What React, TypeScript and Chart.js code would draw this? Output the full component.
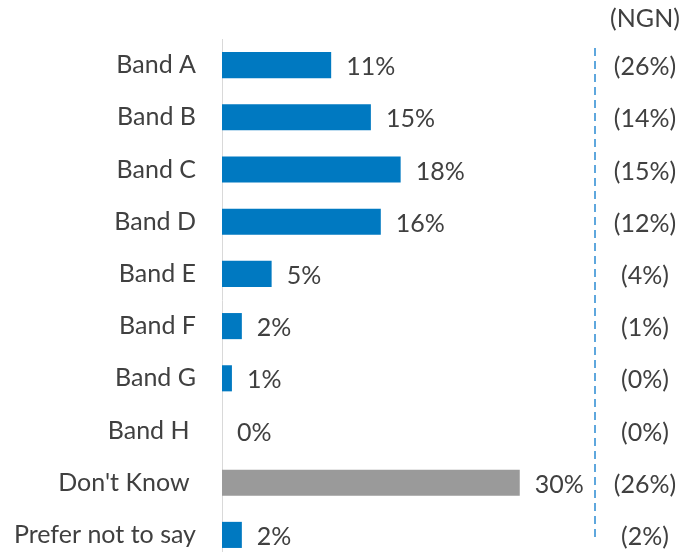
import React, { useEffect, useRef } from "react";
import { Chart, registerables } from "chart.js";

Chart.register(...registerables);

// some source labels carry a trailing space, which shifts them left a little
const categories = [
  "Band A",
  "Band B",
  "Band C",
  "Band D",
  "Band E",
  "Band F",
  "Band G",
  "Band H ",
  "Don't Know ",
  "Prefer not to say",
];
const shares = [11, 15, 18, 16, 5, 2, 1, 0, 30, 2];
const ngnShares = ["(26%)", "(14%)", "(15%)", "(12%)", "(4%)", "(1%)", "(0%)", "(0%)", "(26%)", "(2%)"];
const ngnTitle = "(NGN)";

const BLUE = "#0079C1";
const GREY = "#9A9A9A";
const TEXT = "#404040";
const FONT = "Lato, 'Noto Sans', sans-serif";

const labelsPlugin = {
  id: "sideLabels",
  afterDatasetsDraw(chart) {
    const ctx = chart.ctx;
    const meta = chart.getDatasetMeta(0);
    const area = chart.chartArea;
    const colX = chart.width - 36;
    const lineX = chart.width - 86;

    ctx.save();
    ctx.fillStyle = TEXT;
    ctx.font = `25px ${FONT}`;
    ctx.textBaseline = "middle";

    // value labels next to the bars
    ctx.textAlign = "left";
    meta.data.forEach((bar, i) => {
      ctx.fillText(shares[i] + "%", bar.x + 15, bar.y + 2);
    });

    // NGN comparison column
    ctx.textAlign = "center";
    meta.data.forEach((bar, i) => {
      ctx.fillText(ngnShares[i], colX, bar.y + 2);
    });
    ctx.fillText(ngnTitle, colX, 19);

    // dashed separator
    ctx.strokeStyle = "#2A8AD2";
    ctx.lineWidth = 1.5;
    ctx.setLineDash([8, 5]);
    ctx.beginPath();
    ctx.moveTo(lineX, area.top + 9);
    ctx.lineTo(lineX, area.bottom - 21);
    ctx.stroke();
    ctx.restore();
  },
};

const BandChart = () => {
  const chartRef = useRef(null);

  useEffect(() => {
    document.body.style.margin = "0";
    const ctx = chartRef.current.getContext("2d");
    const chart = new Chart(ctx, {
      type: "bar",
      data: {
        labels: categories,
        datasets: [
          {
            data: shares,
            backgroundColor: categories.map((c) => (c.trim() === "Don't Know" ? GREY : BLUE)),
            barPercentage: 0.5,
            categoryPercentage: 1,
          },
        ],
      },
      options: {
        indexAxis: "y",
        responsive: false,
        animation: false,
        layout: { padding: { top: 39, right: 62, bottom: 0, left: 0 } },
        plugins: {
          legend: { display: false },
          tooltip: { enabled: false },
        },
        scales: {
          x: {
            display: false,
            min: 0,
            max: 40,
          },
          y: {
            grid: { display: false },
            border: { display: true, color: "#D9D9D9", width: 1 },
            ticks: {
              color: TEXT,
              padding: 18,
              font: { family: FONT, size: 25 },
            },
            afterFit: (scale) => {
              scale.width = 222;
            },
          },
        },
      },
      plugins: [labelsPlugin],
    });

    return () => {
      chart.destroy();
    };
  }, []);

  return (
    <div style={{ width: 681, height: 552, overflow: "hidden" }}>
      <canvas ref={chartRef} width={681} height={594} />
    </div>
  );
};

export default function App() {
  return <BandChart />;
}
